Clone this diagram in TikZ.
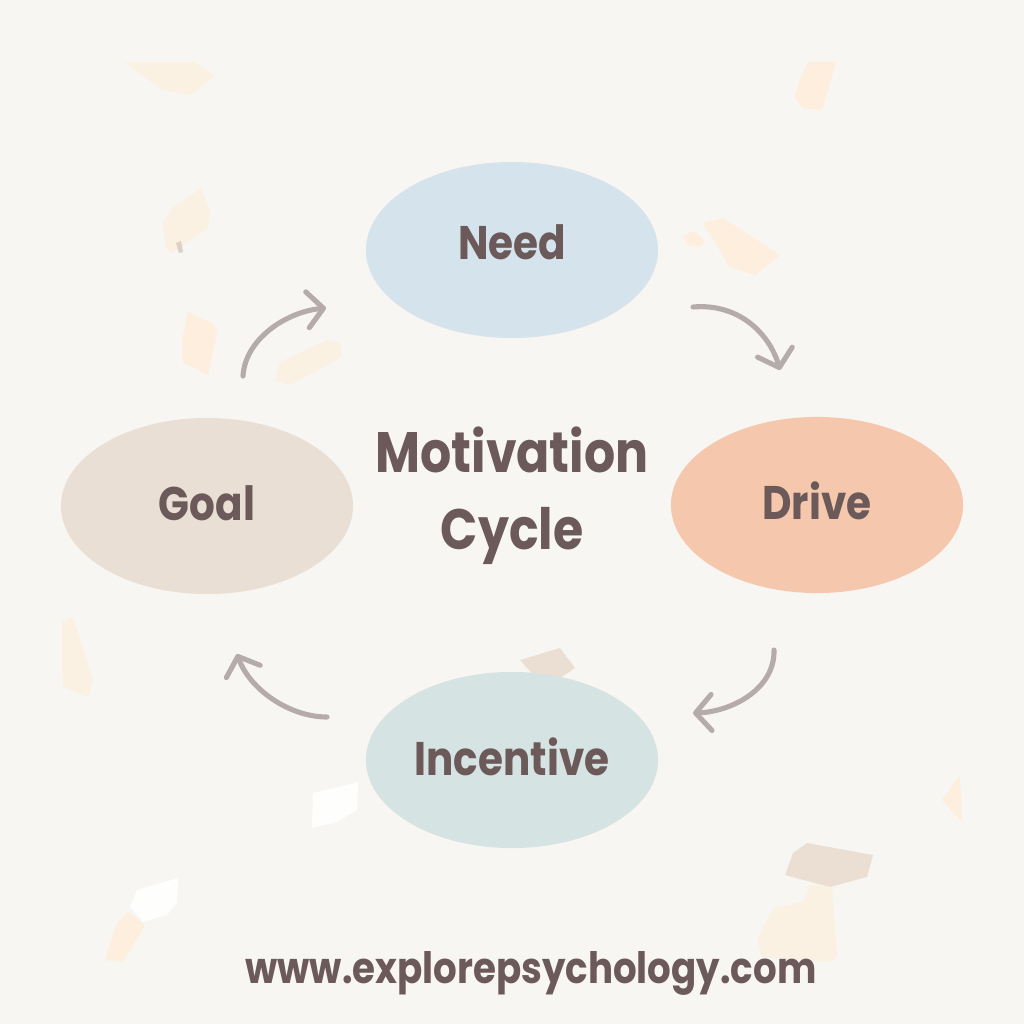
\documentclass[tikz,border=0pt]{standalone}
\usepackage{fontspec}
\setmainfont{Poppins}[FakeStretch=0.86]
\usetikzlibrary{shapes.geometric,arrows.meta}
\definecolor{bg}{HTML}{F8F6F2}
\definecolor{txt}{HTML}{6B5A59}
\definecolor{arr}{HTML}{B5ABAA}
\definecolor{cneed}{HTML}{D5E4EC}
\definecolor{cdrive}{HTML}{F5C8AE}
\definecolor{cgoal}{HTML}{EADFD5}
\definecolor{cinc}{HTML}{D5E3E2}
\definecolor{conf}{HTML}{FAF1E3}
\definecolor{confp}{HTML}{FDEEDE}
\definecolor{confb}{HTML}{EBDFD3}
\definecolor{confg}{HTML}{DCD1C8}
\definecolor{confw}{HTML}{FEFEFD}
\tikzset{
  stage/.style={ellipse, minimum width=2.92cm, minimum height=1.76cm, inner sep=0pt},
  stagetext/.style={text=txt, font=\fontsize{13.4}{16}\selectfont\bfseries},
  cyc/.style={draw=arr, line width=1.45pt, line cap=round,
    -{Straight Barb[length=1.6mm,width=3.6mm,round]}},
}
\begin{document}
\begin{tikzpicture}[x=0.01cm,y=-0.01cm]
\fill[bg] (0,0) rectangle (1024,1024);
\useasboundingbox (0,0) rectangle (1024,1024);
% confetti
\fill[conf] (125,62) -- (195,62) -- (215,76) -- (190,95) -- (162,90) -- cycle;
\fill[confp] (808,62) -- (836,62) -- (822,110) -- (803,108) -- (795,97) -- (800,80) -- cycle;
\fill[conf] (163,223) -- (173,207) -- (202,188) -- (210,213) -- (208,228) -- (172,253) -- (165,247) -- cycle;
\fill[confg] (176,243) -- (181,241) -- (183,252) -- (179,253) -- cycle;
\fill[confp] (703,223) -- (723,218) -- (780,255) -- (755,275) -- (730,267) -- cycle;
\fill[confp] (683,237) -- (693,231) -- (705,240) -- (700,247) -- (688,245) -- cycle;
\fill[confp] (188,312) -- (212,323) -- (217,333) -- (208,375) -- (183,362) -- (182,340) -- cycle;
\fill[conf] (280,362) -- (327,340) -- (340,343) -- (342,357) -- (290,385) -- (275,380) -- cycle;
\fill[conf] (62,622) -- (73,617) -- (93,680) -- (88,697) -- (63,687) -- cycle;
\fill[confw] (313,793) -- (358,782) -- (357,810) -- (337,822) -- (312,828) -- cycle;
\fill[confb] (520,660) -- (560,648) -- (575,668) -- (545,688) -- cycle;
\fill[confb] (807,843) -- (873,855) -- (867,877) -- (830,887) -- (785,875) -- (793,853) -- cycle;
\fill[conf] (810,885) -- (832,887) -- (837,957) -- (830,962) -- (762,957) -- (757,940) -- (773,908) -- (803,902) -- cycle;
\fill[confp] (942,800) -- (960,775) -- (962,822) -- cycle;
\fill[confw] (137,890) -- (178,878) -- (177,903) -- (167,915) -- (143,922) -- (130,907) -- cycle;
\fill[confp] (128,912) -- (145,925) -- (123,962) -- (105,960) -- (117,923) -- cycle;
% stages
\node[stage, fill=cneed] (need) at (512,250) {};
\node[stage, fill=cdrive] (drive) at (817,505) {};
\node[stage, fill=cgoal] (goal) at (207,506) {};
\node[stage, fill=cinc] (inc) at (512,760) {};
\node[stagetext] (needt) at ([yshift=0.08cm]need.center) {Need};
\node[stagetext] (drivet) at ([yshift=0.04cm]drive.center) {Drive};
\node[stagetext] (goalt) at ([yshift=0.03cm]goal.center) {Goal};
\node[stagetext] (inct) at ([yshift=0.03cm]inc.center) {Incentive};
% title
\node[text=txt, font=\fontsize{16.2}{22}\selectfont\bfseries, align=center] (title) at (512,496) {Motivation\\Cycle};
% arrows
\coordinate (a1s) at (693,307); \coordinate (a1e) at (780,370);
\coordinate (a2s) at (774,650); \coordinate (a2e) at (693,713);
\coordinate (a3s) at (327,717); \coordinate (a3e) at (237,654);
\coordinate (a4s) at (243,376); \coordinate (a4e) at (326,308);
\draw[cyc] (a1s) .. controls (740,303) and (770,335) .. (a1e);
\draw[cyc] (a2s) .. controls (775,690) and (730,712) .. (a2e);
\draw[cyc] (a3s) .. controls (290,717) and (250,690) .. (a3e);
\draw[cyc] (a4s) .. controls (245,340) and (285,312) .. (a4e);
% url
\node[text=txt, font=\fontsize{12.3}{16}\selectfont\bfseries] (url) at (531,973) {www.explorepsychology.com};
\end{tikzpicture}
\end{document}
